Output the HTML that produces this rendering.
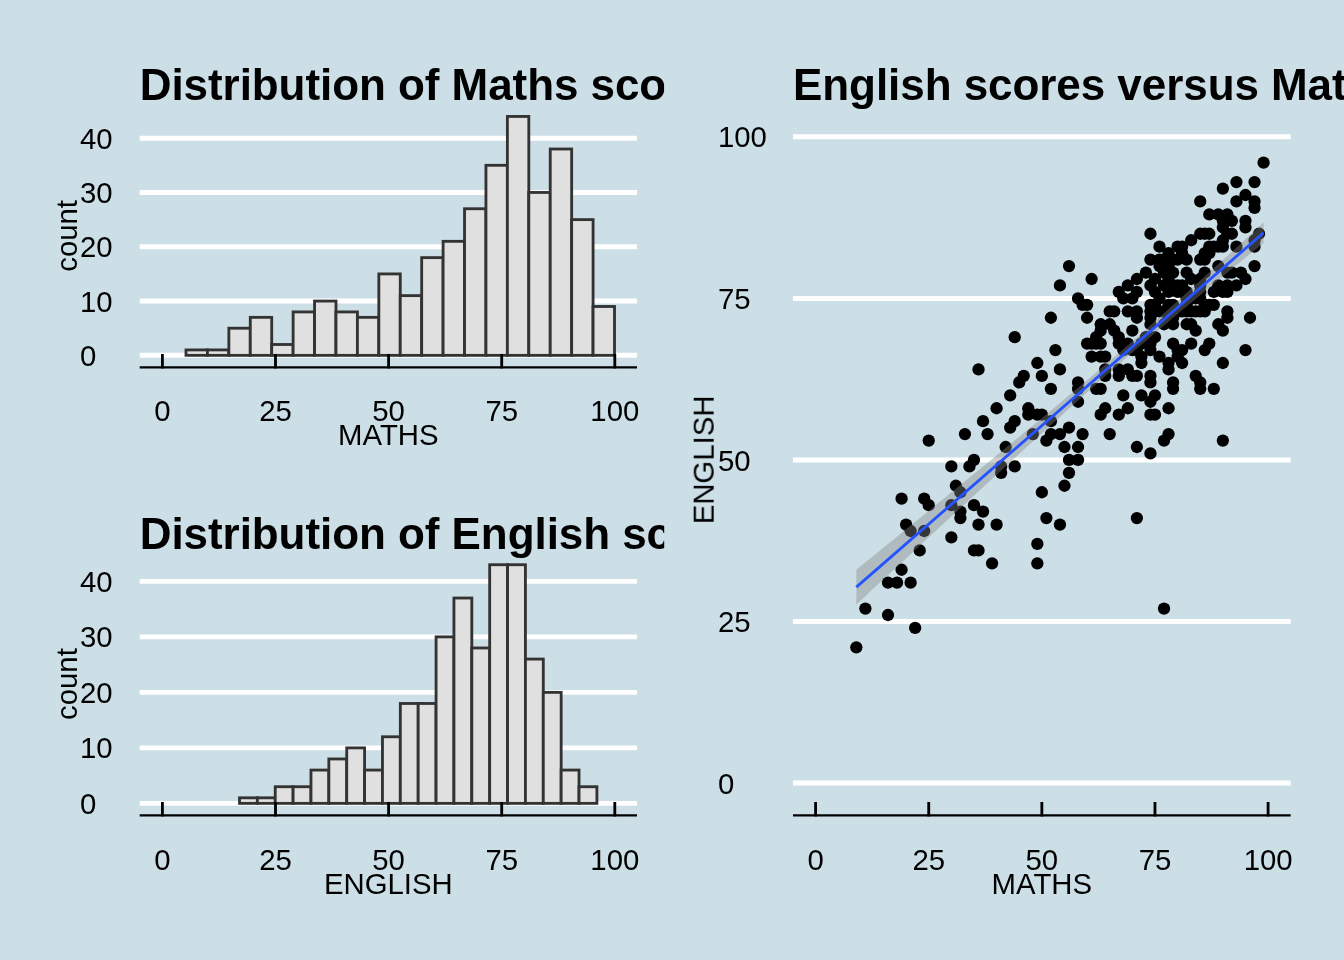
<!DOCTYPE html>
<html><head><meta charset="utf-8"><title>plot</title>
<style>
html,body{margin:0;padding:0;background:#ccdee6;}
body{width:1344px;height:960px;overflow:hidden;}
svg{display:block;}
text{font-family:"Liberation Sans",sans-serif;fill:#000;}
</style></head><body>
<svg width="1344" height="960" viewBox="0 0 1344 960">
<rect x="0" y="0" width="1344" height="960" fill="#ccdee6"/>
<line x1="139.7" x2="637.0" y1="355.35" y2="355.35" stroke="#fff" stroke-width="4.98"/>
<line x1="139.7" x2="637.0" y1="301.06" y2="301.06" stroke="#fff" stroke-width="4.98"/>
<line x1="139.7" x2="637.0" y1="246.76" y2="246.76" stroke="#fff" stroke-width="4.98"/>
<line x1="139.7" x2="637.0" y1="192.46" y2="192.46" stroke="#fff" stroke-width="4.98"/>
<line x1="139.7" x2="637.0" y1="138.16" y2="138.16" stroke="#fff" stroke-width="4.98"/>
<rect x="186.00" y="349.92" width="21.43" height="5.43" fill="#e0e0e0" stroke="#333333" stroke-width="2.84" stroke-linejoin="miter"/>
<rect x="207.43" y="349.92" width="21.43" height="5.43" fill="#e0e0e0" stroke="#333333" stroke-width="2.84" stroke-linejoin="miter"/>
<rect x="228.85" y="328.21" width="21.43" height="27.15" fill="#e0e0e0" stroke="#333333" stroke-width="2.84" stroke-linejoin="miter"/>
<rect x="250.28" y="317.35" width="21.43" height="38.01" fill="#e0e0e0" stroke="#333333" stroke-width="2.84" stroke-linejoin="miter"/>
<rect x="271.70" y="344.50" width="21.43" height="10.86" fill="#e0e0e0" stroke="#333333" stroke-width="2.84" stroke-linejoin="miter"/>
<rect x="293.12" y="311.92" width="21.43" height="43.44" fill="#e0e0e0" stroke="#333333" stroke-width="2.84" stroke-linejoin="miter"/>
<rect x="314.55" y="301.06" width="21.43" height="54.30" fill="#e0e0e0" stroke="#333333" stroke-width="2.84" stroke-linejoin="miter"/>
<rect x="335.98" y="311.92" width="21.43" height="43.44" fill="#e0e0e0" stroke="#333333" stroke-width="2.84" stroke-linejoin="miter"/>
<rect x="357.40" y="317.35" width="21.43" height="38.01" fill="#e0e0e0" stroke="#333333" stroke-width="2.84" stroke-linejoin="miter"/>
<rect x="378.83" y="273.91" width="21.43" height="81.45" fill="#e0e0e0" stroke="#333333" stroke-width="2.84" stroke-linejoin="miter"/>
<rect x="400.25" y="295.63" width="21.43" height="59.73" fill="#e0e0e0" stroke="#333333" stroke-width="2.84" stroke-linejoin="miter"/>
<rect x="421.68" y="257.62" width="21.43" height="97.74" fill="#e0e0e0" stroke="#333333" stroke-width="2.84" stroke-linejoin="miter"/>
<rect x="443.10" y="241.33" width="21.43" height="114.02" fill="#e0e0e0" stroke="#333333" stroke-width="2.84" stroke-linejoin="miter"/>
<rect x="464.53" y="208.75" width="21.43" height="146.60" fill="#e0e0e0" stroke="#333333" stroke-width="2.84" stroke-linejoin="miter"/>
<rect x="485.95" y="165.31" width="21.43" height="190.04" fill="#e0e0e0" stroke="#333333" stroke-width="2.84" stroke-linejoin="miter"/>
<rect x="507.38" y="116.45" width="21.43" height="238.91" fill="#e0e0e0" stroke="#333333" stroke-width="2.84" stroke-linejoin="miter"/>
<rect x="528.80" y="192.46" width="21.43" height="162.89" fill="#e0e0e0" stroke="#333333" stroke-width="2.84" stroke-linejoin="miter"/>
<rect x="550.23" y="149.02" width="21.43" height="206.33" fill="#e0e0e0" stroke="#333333" stroke-width="2.84" stroke-linejoin="miter"/>
<rect x="571.65" y="219.61" width="21.43" height="135.74" fill="#e0e0e0" stroke="#333333" stroke-width="2.84" stroke-linejoin="miter"/>
<rect x="593.08" y="306.49" width="21.43" height="48.87" fill="#e0e0e0" stroke="#333333" stroke-width="2.84" stroke-linejoin="miter"/>
<line x1="139.7" x2="637.0" y1="367.30" y2="367.30" stroke="#000" stroke-width="2.28"/>
<line x1="162.40" x2="162.40" y1="368.44" y2="354.00" stroke="#000" stroke-width="2.84"/>
<line x1="275.50" x2="275.50" y1="368.44" y2="354.00" stroke="#000" stroke-width="2.84"/>
<line x1="388.60" x2="388.60" y1="368.44" y2="354.00" stroke="#000" stroke-width="2.84"/>
<line x1="501.70" x2="501.70" y1="368.44" y2="354.00" stroke="#000" stroke-width="2.84"/>
<line x1="614.80" x2="614.80" y1="368.44" y2="354.00" stroke="#000" stroke-width="2.84"/>
<clipPath id="cMATHS"><rect x="0" y="44.5" width="664.2" height="70"/></clipPath>
<line x1="139.7" x2="637.0" y1="803.37" y2="803.37" stroke="#fff" stroke-width="4.98"/>
<line x1="139.7" x2="637.0" y1="747.87" y2="747.87" stroke="#fff" stroke-width="4.98"/>
<line x1="139.7" x2="637.0" y1="692.37" y2="692.37" stroke="#fff" stroke-width="4.98"/>
<line x1="139.7" x2="637.0" y1="636.88" y2="636.88" stroke="#fff" stroke-width="4.98"/>
<line x1="139.7" x2="637.0" y1="581.38" y2="581.38" stroke="#fff" stroke-width="4.98"/>
<rect x="239.50" y="797.82" width="17.87" height="5.55" fill="#e0e0e0" stroke="#333333" stroke-width="2.84" stroke-linejoin="miter"/>
<rect x="257.37" y="797.82" width="17.87" height="5.55" fill="#e0e0e0" stroke="#333333" stroke-width="2.84" stroke-linejoin="miter"/>
<rect x="275.24" y="786.72" width="17.87" height="16.65" fill="#e0e0e0" stroke="#333333" stroke-width="2.84" stroke-linejoin="miter"/>
<rect x="293.11" y="786.72" width="17.87" height="16.65" fill="#e0e0e0" stroke="#333333" stroke-width="2.84" stroke-linejoin="miter"/>
<rect x="310.98" y="770.07" width="17.87" height="33.30" fill="#e0e0e0" stroke="#333333" stroke-width="2.84" stroke-linejoin="miter"/>
<rect x="328.85" y="758.97" width="17.87" height="44.40" fill="#e0e0e0" stroke="#333333" stroke-width="2.84" stroke-linejoin="miter"/>
<rect x="346.72" y="747.87" width="17.87" height="55.50" fill="#e0e0e0" stroke="#333333" stroke-width="2.84" stroke-linejoin="miter"/>
<rect x="364.59" y="770.07" width="17.87" height="33.30" fill="#e0e0e0" stroke="#333333" stroke-width="2.84" stroke-linejoin="miter"/>
<rect x="382.46" y="736.77" width="17.87" height="66.60" fill="#e0e0e0" stroke="#333333" stroke-width="2.84" stroke-linejoin="miter"/>
<rect x="400.33" y="703.47" width="17.87" height="99.89" fill="#e0e0e0" stroke="#333333" stroke-width="2.84" stroke-linejoin="miter"/>
<rect x="418.20" y="703.47" width="17.87" height="99.89" fill="#e0e0e0" stroke="#333333" stroke-width="2.84" stroke-linejoin="miter"/>
<rect x="436.07" y="636.88" width="17.87" height="166.49" fill="#e0e0e0" stroke="#333333" stroke-width="2.84" stroke-linejoin="miter"/>
<rect x="453.94" y="598.03" width="17.87" height="205.34" fill="#e0e0e0" stroke="#333333" stroke-width="2.84" stroke-linejoin="miter"/>
<rect x="471.81" y="647.98" width="17.87" height="155.39" fill="#e0e0e0" stroke="#333333" stroke-width="2.84" stroke-linejoin="miter"/>
<rect x="489.68" y="564.73" width="17.87" height="238.64" fill="#e0e0e0" stroke="#333333" stroke-width="2.84" stroke-linejoin="miter"/>
<rect x="507.55" y="564.73" width="17.87" height="238.64" fill="#e0e0e0" stroke="#333333" stroke-width="2.84" stroke-linejoin="miter"/>
<rect x="525.42" y="659.08" width="17.87" height="144.29" fill="#e0e0e0" stroke="#333333" stroke-width="2.84" stroke-linejoin="miter"/>
<rect x="543.29" y="692.37" width="17.87" height="110.99" fill="#e0e0e0" stroke="#333333" stroke-width="2.84" stroke-linejoin="miter"/>
<rect x="561.16" y="770.07" width="17.87" height="33.30" fill="#e0e0e0" stroke="#333333" stroke-width="2.84" stroke-linejoin="miter"/>
<rect x="579.03" y="786.72" width="17.87" height="16.65" fill="#e0e0e0" stroke="#333333" stroke-width="2.84" stroke-linejoin="miter"/>
<line x1="139.7" x2="637.0" y1="815.30" y2="815.30" stroke="#000" stroke-width="2.28"/>
<line x1="162.40" x2="162.40" y1="816.44" y2="802.00" stroke="#000" stroke-width="2.84"/>
<line x1="275.50" x2="275.50" y1="816.44" y2="802.00" stroke="#000" stroke-width="2.84"/>
<line x1="388.60" x2="388.60" y1="816.44" y2="802.00" stroke="#000" stroke-width="2.84"/>
<line x1="501.70" x2="501.70" y1="816.44" y2="802.00" stroke="#000" stroke-width="2.84"/>
<line x1="614.80" x2="614.80" y1="816.44" y2="802.00" stroke="#000" stroke-width="2.84"/>
<clipPath id="cENGLISH"><rect x="0" y="492.8" width="664.2" height="70"/></clipPath>
<line x1="793.0" x2="1290.7" y1="783.00" y2="783.00" stroke="#fff" stroke-width="4.98"/>
<line x1="793.0" x2="1290.7" y1="621.46" y2="621.46" stroke="#fff" stroke-width="4.98"/>
<line x1="793.0" x2="1290.7" y1="459.93" y2="459.93" stroke="#fff" stroke-width="4.98"/>
<line x1="793.0" x2="1290.7" y1="298.39" y2="298.39" stroke="#fff" stroke-width="4.98"/>
<line x1="793.0" x2="1290.7" y1="136.85" y2="136.85" stroke="#fff" stroke-width="4.98"/>
<circle cx="856.33" cy="647.31" r="6.15"/>
<circle cx="865.38" cy="608.54" r="6.15"/>
<circle cx="888.00" cy="615.00" r="6.15"/>
<circle cx="888.00" cy="582.69" r="6.15"/>
<circle cx="897.05" cy="582.69" r="6.15"/>
<circle cx="901.58" cy="569.77" r="6.15"/>
<circle cx="901.58" cy="498.69" r="6.15"/>
<circle cx="906.10" cy="524.54" r="6.15"/>
<circle cx="910.62" cy="582.69" r="6.15"/>
<circle cx="910.62" cy="531.00" r="6.15"/>
<circle cx="915.15" cy="627.92" r="6.15"/>
<circle cx="919.68" cy="550.39" r="6.15"/>
<circle cx="924.20" cy="531.00" r="6.15"/>
<circle cx="924.20" cy="498.69" r="6.15"/>
<circle cx="928.73" cy="505.16" r="6.15"/>
<circle cx="928.73" cy="440.54" r="6.15"/>
<circle cx="951.35" cy="537.46" r="6.15"/>
<circle cx="951.35" cy="505.16" r="6.15"/>
<circle cx="951.35" cy="466.39" r="6.15"/>
<circle cx="955.88" cy="485.77" r="6.15"/>
<circle cx="960.40" cy="518.08" r="6.15"/>
<circle cx="960.40" cy="511.62" r="6.15"/>
<circle cx="960.40" cy="492.23" r="6.15"/>
<circle cx="964.93" cy="434.08" r="6.15"/>
<circle cx="969.45" cy="466.39" r="6.15"/>
<circle cx="973.98" cy="550.39" r="6.15"/>
<circle cx="973.98" cy="505.16" r="6.15"/>
<circle cx="973.98" cy="459.93" r="6.15"/>
<circle cx="978.50" cy="550.39" r="6.15"/>
<circle cx="978.50" cy="524.54" r="6.15"/>
<circle cx="978.50" cy="369.46" r="6.15"/>
<circle cx="983.03" cy="511.62" r="6.15"/>
<circle cx="983.03" cy="421.16" r="6.15"/>
<circle cx="987.55" cy="434.08" r="6.15"/>
<circle cx="992.08" cy="563.31" r="6.15"/>
<circle cx="996.60" cy="524.54" r="6.15"/>
<circle cx="996.60" cy="408.23" r="6.15"/>
<circle cx="1001.12" cy="472.85" r="6.15"/>
<circle cx="1001.12" cy="466.39" r="6.15"/>
<circle cx="1005.65" cy="447.00" r="6.15"/>
<circle cx="1010.18" cy="427.62" r="6.15"/>
<circle cx="1010.18" cy="395.31" r="6.15"/>
<circle cx="1014.70" cy="466.39" r="6.15"/>
<circle cx="1014.70" cy="421.16" r="6.15"/>
<circle cx="1014.70" cy="337.16" r="6.15"/>
<circle cx="1019.23" cy="382.39" r="6.15"/>
<circle cx="1023.75" cy="375.93" r="6.15"/>
<circle cx="1028.28" cy="414.69" r="6.15"/>
<circle cx="1028.28" cy="408.23" r="6.15"/>
<circle cx="1032.80" cy="434.08" r="6.15"/>
<circle cx="1037.33" cy="563.31" r="6.15"/>
<circle cx="1037.33" cy="543.92" r="6.15"/>
<circle cx="1037.33" cy="414.69" r="6.15"/>
<circle cx="1037.33" cy="363.00" r="6.15"/>
<circle cx="1041.85" cy="492.23" r="6.15"/>
<circle cx="1041.85" cy="414.69" r="6.15"/>
<circle cx="1041.85" cy="375.93" r="6.15"/>
<circle cx="1046.38" cy="518.08" r="6.15"/>
<circle cx="1046.38" cy="440.54" r="6.15"/>
<circle cx="1050.90" cy="434.08" r="6.15"/>
<circle cx="1050.90" cy="421.16" r="6.15"/>
<circle cx="1050.90" cy="388.85" r="6.15"/>
<circle cx="1050.90" cy="317.77" r="6.15"/>
<circle cx="1055.42" cy="350.08" r="6.15"/>
<circle cx="1059.95" cy="524.54" r="6.15"/>
<circle cx="1059.95" cy="434.08" r="6.15"/>
<circle cx="1059.95" cy="369.46" r="6.15"/>
<circle cx="1059.95" cy="285.46" r="6.15"/>
<circle cx="1064.48" cy="485.77" r="6.15"/>
<circle cx="1064.48" cy="447.00" r="6.15"/>
<circle cx="1069.00" cy="472.85" r="6.15"/>
<circle cx="1069.00" cy="459.93" r="6.15"/>
<circle cx="1069.00" cy="427.62" r="6.15"/>
<circle cx="1069.00" cy="266.08" r="6.15"/>
<circle cx="1078.05" cy="459.93" r="6.15"/>
<circle cx="1078.05" cy="447.00" r="6.15"/>
<circle cx="1078.05" cy="401.77" r="6.15"/>
<circle cx="1078.05" cy="388.85" r="6.15"/>
<circle cx="1078.05" cy="382.39" r="6.15"/>
<circle cx="1078.05" cy="298.39" r="6.15"/>
<circle cx="1082.58" cy="434.08" r="6.15"/>
<circle cx="1082.58" cy="304.85" r="6.15"/>
<circle cx="1087.10" cy="343.62" r="6.15"/>
<circle cx="1087.10" cy="317.77" r="6.15"/>
<circle cx="1087.10" cy="304.85" r="6.15"/>
<circle cx="1091.62" cy="356.54" r="6.15"/>
<circle cx="1091.62" cy="343.62" r="6.15"/>
<circle cx="1091.62" cy="279.00" r="6.15"/>
<circle cx="1096.15" cy="388.85" r="6.15"/>
<circle cx="1096.15" cy="343.62" r="6.15"/>
<circle cx="1096.15" cy="337.16" r="6.15"/>
<circle cx="1100.68" cy="414.69" r="6.15"/>
<circle cx="1100.68" cy="388.85" r="6.15"/>
<circle cx="1100.68" cy="356.54" r="6.15"/>
<circle cx="1100.68" cy="343.62" r="6.15"/>
<circle cx="1100.68" cy="330.69" r="6.15"/>
<circle cx="1100.68" cy="324.23" r="6.15"/>
<circle cx="1105.20" cy="408.23" r="6.15"/>
<circle cx="1105.20" cy="375.93" r="6.15"/>
<circle cx="1105.20" cy="369.46" r="6.15"/>
<circle cx="1105.20" cy="356.54" r="6.15"/>
<circle cx="1109.72" cy="434.08" r="6.15"/>
<circle cx="1109.72" cy="324.23" r="6.15"/>
<circle cx="1109.72" cy="311.31" r="6.15"/>
<circle cx="1114.25" cy="330.69" r="6.15"/>
<circle cx="1114.25" cy="311.31" r="6.15"/>
<circle cx="1118.78" cy="414.69" r="6.15"/>
<circle cx="1118.78" cy="375.93" r="6.15"/>
<circle cx="1118.78" cy="369.46" r="6.15"/>
<circle cx="1118.78" cy="343.62" r="6.15"/>
<circle cx="1118.78" cy="337.16" r="6.15"/>
<circle cx="1118.78" cy="291.93" r="6.15"/>
<circle cx="1123.30" cy="395.31" r="6.15"/>
<circle cx="1123.30" cy="350.08" r="6.15"/>
<circle cx="1123.30" cy="298.39" r="6.15"/>
<circle cx="1127.83" cy="408.23" r="6.15"/>
<circle cx="1127.83" cy="369.46" r="6.15"/>
<circle cx="1127.83" cy="343.62" r="6.15"/>
<circle cx="1127.83" cy="311.31" r="6.15"/>
<circle cx="1127.83" cy="285.46" r="6.15"/>
<circle cx="1132.35" cy="375.93" r="6.15"/>
<circle cx="1132.35" cy="350.08" r="6.15"/>
<circle cx="1132.35" cy="330.69" r="6.15"/>
<circle cx="1132.35" cy="298.39" r="6.15"/>
<circle cx="1136.88" cy="518.08" r="6.15"/>
<circle cx="1136.88" cy="447.00" r="6.15"/>
<circle cx="1136.88" cy="375.93" r="6.15"/>
<circle cx="1136.88" cy="350.08" r="6.15"/>
<circle cx="1136.88" cy="317.77" r="6.15"/>
<circle cx="1136.88" cy="311.31" r="6.15"/>
<circle cx="1136.88" cy="291.93" r="6.15"/>
<circle cx="1136.88" cy="279.00" r="6.15"/>
<circle cx="1141.40" cy="395.31" r="6.15"/>
<circle cx="1141.40" cy="363.00" r="6.15"/>
<circle cx="1141.40" cy="356.54" r="6.15"/>
<circle cx="1141.40" cy="343.62" r="6.15"/>
<circle cx="1145.93" cy="337.16" r="6.15"/>
<circle cx="1145.93" cy="272.54" r="6.15"/>
<circle cx="1150.45" cy="453.46" r="6.15"/>
<circle cx="1150.45" cy="414.69" r="6.15"/>
<circle cx="1150.45" cy="401.77" r="6.15"/>
<circle cx="1150.45" cy="382.39" r="6.15"/>
<circle cx="1150.45" cy="375.93" r="6.15"/>
<circle cx="1150.45" cy="350.08" r="6.15"/>
<circle cx="1150.45" cy="343.62" r="6.15"/>
<circle cx="1150.45" cy="324.23" r="6.15"/>
<circle cx="1150.45" cy="317.77" r="6.15"/>
<circle cx="1150.45" cy="311.31" r="6.15"/>
<circle cx="1150.45" cy="304.85" r="6.15"/>
<circle cx="1150.45" cy="285.46" r="6.15"/>
<circle cx="1150.45" cy="259.62" r="6.15"/>
<circle cx="1150.45" cy="233.77" r="6.15"/>
<circle cx="1154.97" cy="414.69" r="6.15"/>
<circle cx="1154.97" cy="395.31" r="6.15"/>
<circle cx="1154.97" cy="337.16" r="6.15"/>
<circle cx="1154.97" cy="311.31" r="6.15"/>
<circle cx="1154.97" cy="304.85" r="6.15"/>
<circle cx="1154.97" cy="291.93" r="6.15"/>
<circle cx="1154.97" cy="279.00" r="6.15"/>
<circle cx="1159.50" cy="356.54" r="6.15"/>
<circle cx="1159.50" cy="311.31" r="6.15"/>
<circle cx="1159.50" cy="298.39" r="6.15"/>
<circle cx="1159.50" cy="266.08" r="6.15"/>
<circle cx="1159.50" cy="259.62" r="6.15"/>
<circle cx="1159.50" cy="246.70" r="6.15"/>
<circle cx="1164.03" cy="608.54" r="6.15"/>
<circle cx="1164.03" cy="440.54" r="6.15"/>
<circle cx="1164.03" cy="324.23" r="6.15"/>
<circle cx="1164.03" cy="311.31" r="6.15"/>
<circle cx="1164.03" cy="285.46" r="6.15"/>
<circle cx="1164.03" cy="272.54" r="6.15"/>
<circle cx="1164.03" cy="259.62" r="6.15"/>
<circle cx="1168.55" cy="434.08" r="6.15"/>
<circle cx="1168.55" cy="408.23" r="6.15"/>
<circle cx="1168.55" cy="369.46" r="6.15"/>
<circle cx="1168.55" cy="363.00" r="6.15"/>
<circle cx="1168.55" cy="317.77" r="6.15"/>
<circle cx="1168.55" cy="311.31" r="6.15"/>
<circle cx="1168.55" cy="304.85" r="6.15"/>
<circle cx="1168.55" cy="291.93" r="6.15"/>
<circle cx="1168.55" cy="279.00" r="6.15"/>
<circle cx="1168.55" cy="272.54" r="6.15"/>
<circle cx="1168.55" cy="266.08" r="6.15"/>
<circle cx="1168.55" cy="253.16" r="6.15"/>
<circle cx="1173.08" cy="388.85" r="6.15"/>
<circle cx="1173.08" cy="382.39" r="6.15"/>
<circle cx="1173.08" cy="343.62" r="6.15"/>
<circle cx="1173.08" cy="324.23" r="6.15"/>
<circle cx="1173.08" cy="317.77" r="6.15"/>
<circle cx="1173.08" cy="311.31" r="6.15"/>
<circle cx="1173.08" cy="304.85" r="6.15"/>
<circle cx="1173.08" cy="285.46" r="6.15"/>
<circle cx="1173.08" cy="272.54" r="6.15"/>
<circle cx="1173.08" cy="259.62" r="6.15"/>
<circle cx="1177.60" cy="356.54" r="6.15"/>
<circle cx="1177.60" cy="350.08" r="6.15"/>
<circle cx="1177.60" cy="311.31" r="6.15"/>
<circle cx="1177.60" cy="291.93" r="6.15"/>
<circle cx="1177.60" cy="285.46" r="6.15"/>
<circle cx="1177.60" cy="259.62" r="6.15"/>
<circle cx="1177.60" cy="246.70" r="6.15"/>
<circle cx="1182.12" cy="363.00" r="6.15"/>
<circle cx="1182.12" cy="350.08" r="6.15"/>
<circle cx="1182.12" cy="311.31" r="6.15"/>
<circle cx="1182.12" cy="291.93" r="6.15"/>
<circle cx="1182.12" cy="285.46" r="6.15"/>
<circle cx="1182.12" cy="253.16" r="6.15"/>
<circle cx="1182.12" cy="246.70" r="6.15"/>
<circle cx="1186.65" cy="324.23" r="6.15"/>
<circle cx="1186.65" cy="311.31" r="6.15"/>
<circle cx="1186.65" cy="304.85" r="6.15"/>
<circle cx="1186.65" cy="298.39" r="6.15"/>
<circle cx="1186.65" cy="291.93" r="6.15"/>
<circle cx="1186.65" cy="272.54" r="6.15"/>
<circle cx="1186.65" cy="259.62" r="6.15"/>
<circle cx="1191.18" cy="343.62" r="6.15"/>
<circle cx="1191.18" cy="324.23" r="6.15"/>
<circle cx="1191.18" cy="311.31" r="6.15"/>
<circle cx="1191.18" cy="298.39" r="6.15"/>
<circle cx="1191.18" cy="279.00" r="6.15"/>
<circle cx="1191.18" cy="240.23" r="6.15"/>
<circle cx="1195.70" cy="375.93" r="6.15"/>
<circle cx="1195.70" cy="330.69" r="6.15"/>
<circle cx="1195.70" cy="311.31" r="6.15"/>
<circle cx="1195.70" cy="298.39" r="6.15"/>
<circle cx="1200.23" cy="388.85" r="6.15"/>
<circle cx="1200.23" cy="382.39" r="6.15"/>
<circle cx="1200.23" cy="311.31" r="6.15"/>
<circle cx="1200.23" cy="298.39" r="6.15"/>
<circle cx="1200.23" cy="291.93" r="6.15"/>
<circle cx="1200.23" cy="285.46" r="6.15"/>
<circle cx="1200.23" cy="279.00" r="6.15"/>
<circle cx="1200.23" cy="259.62" r="6.15"/>
<circle cx="1200.23" cy="233.77" r="6.15"/>
<circle cx="1200.23" cy="201.47" r="6.15"/>
<circle cx="1204.75" cy="350.08" r="6.15"/>
<circle cx="1204.75" cy="311.31" r="6.15"/>
<circle cx="1204.75" cy="304.85" r="6.15"/>
<circle cx="1204.75" cy="272.54" r="6.15"/>
<circle cx="1204.75" cy="259.62" r="6.15"/>
<circle cx="1204.75" cy="253.16" r="6.15"/>
<circle cx="1204.75" cy="233.77" r="6.15"/>
<circle cx="1209.28" cy="343.62" r="6.15"/>
<circle cx="1209.28" cy="304.85" r="6.15"/>
<circle cx="1209.28" cy="253.16" r="6.15"/>
<circle cx="1209.28" cy="246.70" r="6.15"/>
<circle cx="1209.28" cy="233.77" r="6.15"/>
<circle cx="1209.28" cy="214.39" r="6.15"/>
<circle cx="1213.80" cy="388.85" r="6.15"/>
<circle cx="1213.80" cy="304.85" r="6.15"/>
<circle cx="1213.80" cy="291.93" r="6.15"/>
<circle cx="1213.80" cy="246.70" r="6.15"/>
<circle cx="1218.33" cy="324.23" r="6.15"/>
<circle cx="1218.33" cy="285.46" r="6.15"/>
<circle cx="1218.33" cy="266.08" r="6.15"/>
<circle cx="1218.33" cy="246.70" r="6.15"/>
<circle cx="1218.33" cy="214.39" r="6.15"/>
<circle cx="1222.85" cy="440.54" r="6.15"/>
<circle cx="1222.85" cy="363.00" r="6.15"/>
<circle cx="1222.85" cy="330.69" r="6.15"/>
<circle cx="1222.85" cy="291.93" r="6.15"/>
<circle cx="1222.85" cy="246.70" r="6.15"/>
<circle cx="1222.85" cy="240.23" r="6.15"/>
<circle cx="1222.85" cy="227.31" r="6.15"/>
<circle cx="1222.85" cy="220.85" r="6.15"/>
<circle cx="1222.85" cy="188.54" r="6.15"/>
<circle cx="1227.38" cy="317.77" r="6.15"/>
<circle cx="1227.38" cy="311.31" r="6.15"/>
<circle cx="1227.38" cy="291.93" r="6.15"/>
<circle cx="1227.38" cy="285.46" r="6.15"/>
<circle cx="1227.38" cy="272.54" r="6.15"/>
<circle cx="1227.38" cy="233.77" r="6.15"/>
<circle cx="1227.38" cy="214.39" r="6.15"/>
<circle cx="1231.90" cy="272.54" r="6.15"/>
<circle cx="1231.90" cy="233.77" r="6.15"/>
<circle cx="1231.90" cy="220.85" r="6.15"/>
<circle cx="1236.43" cy="285.46" r="6.15"/>
<circle cx="1236.43" cy="246.70" r="6.15"/>
<circle cx="1236.43" cy="201.47" r="6.15"/>
<circle cx="1236.43" cy="182.08" r="6.15"/>
<circle cx="1240.95" cy="272.54" r="6.15"/>
<circle cx="1245.48" cy="350.08" r="6.15"/>
<circle cx="1245.48" cy="279.00" r="6.15"/>
<circle cx="1245.48" cy="227.31" r="6.15"/>
<circle cx="1245.48" cy="220.85" r="6.15"/>
<circle cx="1245.48" cy="195.00" r="6.15"/>
<circle cx="1250.00" cy="317.77" r="6.15"/>
<circle cx="1254.53" cy="266.08" r="6.15"/>
<circle cx="1254.53" cy="246.70" r="6.15"/>
<circle cx="1254.53" cy="240.23" r="6.15"/>
<circle cx="1254.53" cy="207.93" r="6.15"/>
<circle cx="1254.53" cy="201.47" r="6.15"/>
<circle cx="1254.53" cy="182.08" r="6.15"/>
<circle cx="1259.05" cy="233.77" r="6.15"/>
<circle cx="1263.58" cy="162.70" r="6.15"/>
<polygon points="856.33,569.71 861.48,565.53 866.64,561.34 871.79,557.15 876.95,552.96 882.10,548.77 887.26,544.58 892.41,540.38 897.57,536.19 902.72,532.00 907.88,527.80 913.03,523.60 918.19,519.41 923.34,515.21 928.50,511.01 933.65,506.81 938.81,502.60 943.96,498.40 949.12,494.19 954.27,489.99 959.43,485.78 964.58,481.57 969.74,477.35 974.89,473.14 980.05,468.92 985.20,464.69 990.36,460.47 995.51,456.24 1000.67,452.01 1005.82,447.78 1010.98,443.54 1016.13,439.29 1021.29,435.04 1026.44,430.79 1031.60,426.53 1036.75,422.27 1041.91,417.99 1047.06,413.72 1052.22,409.43 1057.37,405.13 1062.53,400.83 1067.68,396.51 1072.84,392.19 1077.99,387.85 1083.15,383.50 1088.30,379.13 1093.46,374.76 1098.61,370.36 1103.77,365.95 1108.92,361.53 1114.08,357.09 1119.23,352.63 1124.39,348.15 1129.54,343.66 1134.70,339.15 1139.85,334.62 1145.01,330.07 1150.16,325.51 1155.32,320.94 1160.47,316.34 1165.63,311.74 1170.78,307.12 1175.94,302.48 1181.09,297.84 1186.25,293.18 1191.40,288.52 1196.56,283.84 1201.71,279.16 1206.87,274.47 1212.02,269.77 1217.18,265.06 1222.33,260.35 1227.49,255.63 1232.64,250.91 1237.80,246.18 1242.95,241.45 1248.11,236.71 1253.26,231.97 1258.42,227.23 1263.58,222.48 1263.58,242.92 1258.42,247.14 1253.26,251.37 1248.11,255.60 1242.95,259.84 1237.80,264.08 1232.64,268.32 1227.49,272.57 1222.33,276.82 1217.18,281.08 1212.02,285.35 1206.87,289.62 1201.71,293.90 1196.56,298.19 1191.40,302.49 1186.25,306.79 1181.09,311.11 1175.94,315.44 1170.78,319.78 1165.63,324.13 1160.47,328.49 1155.32,332.87 1150.16,337.27 1145.01,341.68 1139.85,346.10 1134.70,350.55 1129.54,355.01 1124.39,359.49 1119.23,363.98 1114.08,368.49 1108.92,373.02 1103.77,377.57 1098.61,382.14 1093.46,386.71 1088.30,391.31 1083.15,395.92 1077.99,400.54 1072.84,405.17 1067.68,409.82 1062.53,414.47 1057.37,419.14 1052.22,423.82 1047.06,428.50 1041.91,433.19 1036.75,437.89 1031.60,442.60 1026.44,447.31 1021.29,452.03 1016.13,456.75 1010.98,461.48 1005.82,466.22 1000.67,470.95 995.51,475.69 990.36,480.44 985.20,485.18 980.05,489.93 974.89,494.69 969.74,499.44 964.58,504.20 959.43,508.96 954.27,513.72 949.12,518.49 943.96,523.25 938.81,528.02 933.65,532.79 928.50,537.56 923.34,542.33 918.19,547.11 913.03,551.88 907.88,556.66 902.72,561.43 897.57,566.21 892.41,570.99 887.26,575.77 882.10,580.55 876.95,585.33 871.79,590.11 866.64,594.89 861.48,599.68 856.33,604.46" fill="#888888" fill-opacity="0.4"/>
<line x1="856.33" y1="587.09" x2="1263.58" y2="232.70" stroke="#2453ff" stroke-width="2.84"/>
<line x1="793.0" x2="1290.7" y1="815.3" y2="815.3" stroke="#000" stroke-width="2.28"/>
<line x1="815.60" x2="815.60" y1="816.44" y2="802.00" stroke="#000" stroke-width="2.84"/>
<line x1="928.73" x2="928.73" y1="816.44" y2="802.00" stroke="#000" stroke-width="2.84"/>
<line x1="1041.85" x2="1041.85" y1="816.44" y2="802.00" stroke="#000" stroke-width="2.84"/>
<line x1="1154.97" x2="1154.97" y1="816.44" y2="802.00" stroke="#000" stroke-width="2.84"/>
<line x1="1268.10" x2="1268.10" y1="816.44" y2="802.00" stroke="#000" stroke-width="2.84"/>
<g style="opacity:.999">
<text x="162.40" y="420.70" font-size="29.33" text-anchor="middle">0</text>
<text x="275.50" y="420.70" font-size="29.33" text-anchor="middle">25</text>
<text x="388.60" y="420.70" font-size="29.33" text-anchor="middle">50</text>
<text x="501.70" y="420.70" font-size="29.33" text-anchor="middle">75</text>
<text x="614.80" y="420.70" font-size="29.33" text-anchor="middle">100</text>
<text x="80" y="365.95" font-size="29.33">0</text>
<text x="80" y="311.66" font-size="29.33">10</text>
<text x="80" y="257.36" font-size="29.33">20</text>
<text x="80" y="203.06" font-size="29.33">30</text>
<text x="80" y="148.76" font-size="29.33">40</text>
<text x="388.35" y="445.10" font-size="29.33" text-anchor="middle">MATHS</text>
<text transform="translate(76.5,235.90) rotate(-90)" font-size="29.33" text-anchor="middle">count</text>
<text x="139.7" y="100.20" font-size="44.0" font-weight="bold" letter-spacing="-0.06" clip-path="url(#cMATHS)">Distribution of Maths scores</text>
<text x="162.40" y="869.50" font-size="29.33" text-anchor="middle">0</text>
<text x="275.50" y="869.50" font-size="29.33" text-anchor="middle">25</text>
<text x="388.60" y="869.50" font-size="29.33" text-anchor="middle">50</text>
<text x="501.70" y="869.50" font-size="29.33" text-anchor="middle">75</text>
<text x="614.80" y="869.50" font-size="29.33" text-anchor="middle">100</text>
<text x="80" y="813.97" font-size="29.33">0</text>
<text x="80" y="758.47" font-size="29.33">10</text>
<text x="80" y="702.97" font-size="29.33">20</text>
<text x="80" y="647.48" font-size="29.33">30</text>
<text x="80" y="591.98" font-size="29.33">40</text>
<text x="388.35" y="893.90" font-size="29.33" text-anchor="middle">ENGLISH</text>
<text transform="translate(76.5,684.05) rotate(-90)" font-size="29.33" text-anchor="middle">count</text>
<text x="139.7" y="549.20" font-size="44.0" font-weight="bold" letter-spacing="-0.06" clip-path="url(#cENGLISH)">Distribution of English scores</text>
<text x="815.60" y="869.60" font-size="29.33" text-anchor="middle">0</text>
<text x="718" y="793.60" font-size="29.33">0</text>
<text x="928.73" y="869.60" font-size="29.33" text-anchor="middle">25</text>
<text x="718" y="632.06" font-size="29.33">25</text>
<text x="1041.85" y="869.60" font-size="29.33" text-anchor="middle">50</text>
<text x="718" y="470.53" font-size="29.33">50</text>
<text x="1154.97" y="869.60" font-size="29.33" text-anchor="middle">75</text>
<text x="718" y="308.99" font-size="29.33">75</text>
<text x="1268.10" y="869.60" font-size="29.33" text-anchor="middle">100</text>
<text x="718" y="147.45" font-size="29.33">100</text>
<text x="1041.85" y="894.00" font-size="29.33" text-anchor="middle">MATHS</text>
<text transform="translate(713.7,459.90) rotate(-90)" font-size="29.33" text-anchor="middle">ENGLISH</text>
<text x="793" y="100.2" font-size="44.0" font-weight="bold" letter-spacing="-0.06">English scores versus Maths scores</text>
</g>
</svg></body></html>
